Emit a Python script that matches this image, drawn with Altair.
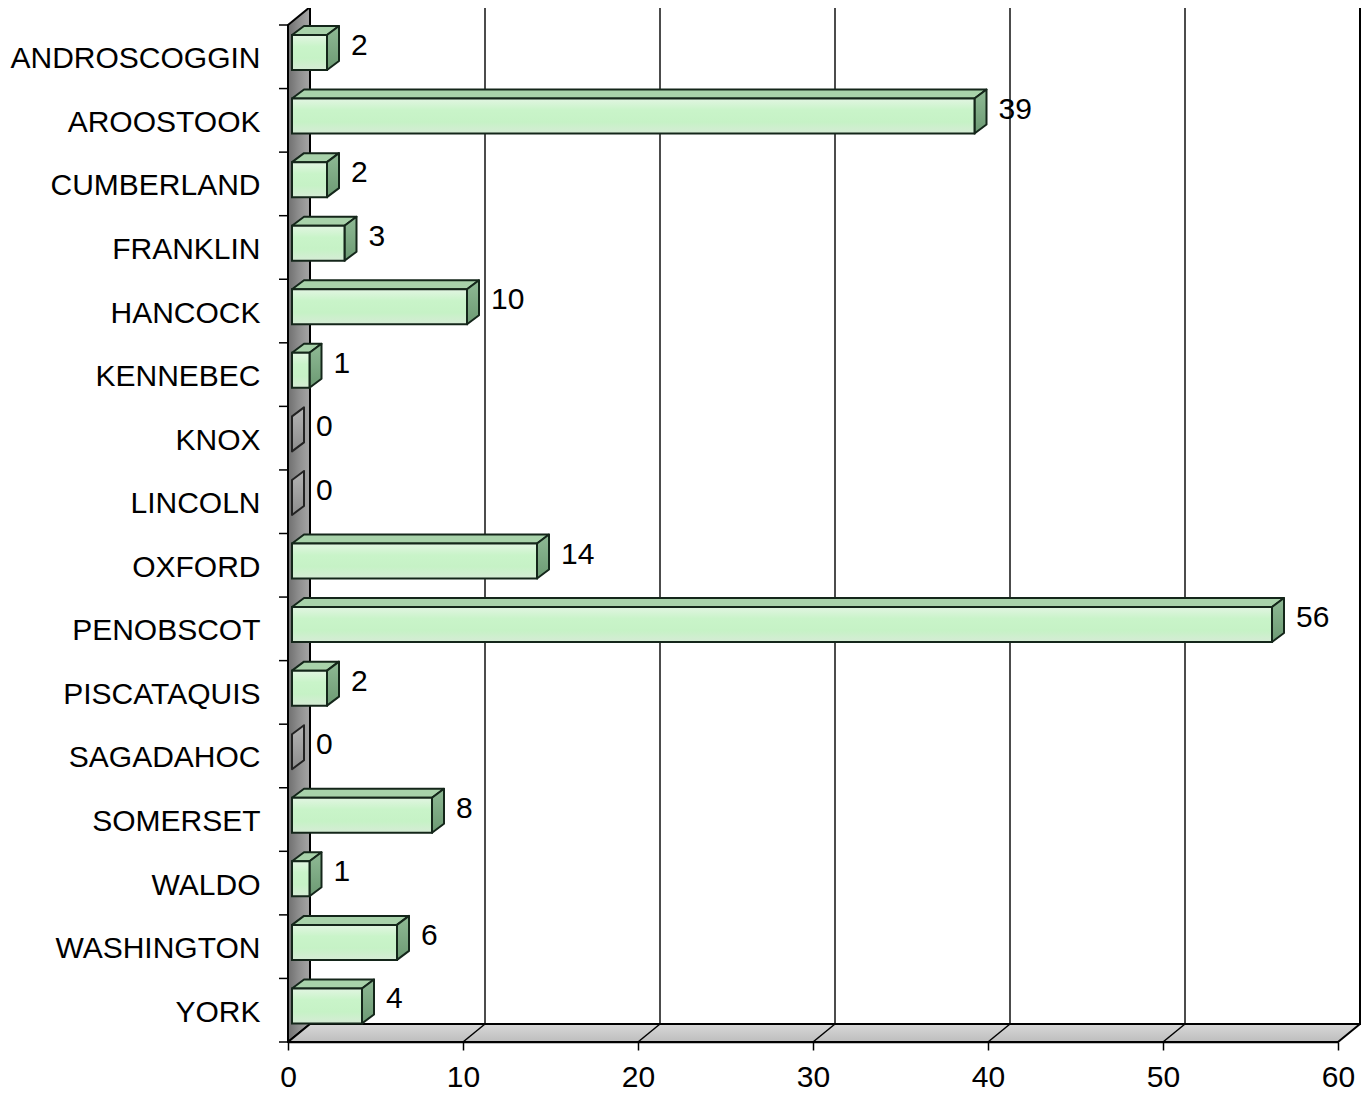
import json
import altair as alt
import pandas as pd

# ---- data ----
counties = ["ANDROSCOGGIN", "AROOSTOOK", "CUMBERLAND", "FRANKLIN", "HANCOCK",
            "KENNEBEC", "KNOX", "LINCOLN", "OXFORD", "PENOBSCOT", "PISCATAQUIS",
            "SAGADAHOC", "SOMERSET", "WALDO", "WASHINGTON", "YORK"]
values = [2, 39, 2, 3, 10, 1, 0, 0, 14, 56, 2, 0, 8, 1, 6, 4]
x_ticks = [0, 10, 20, 30, 40, 50, 60]

# ---- geometry (pixels -> data units) ----
W, H = 1050, 1017
XMAX, N = 60, len(counties)
PXU = W / XMAX
PYU = H / N
DEPTH_X, DEPTH_Y = 22 / PXU, 18 / PYU      # chart box depth
BAR_X0 = 4 / PXU                            # bar front starts a bit inside
BDX, BDY = 12 / PXU, 9 / PYU                # bar depth
FTOP, FBOT = 10 / PYU, 45 / PYU             # front face inside band
LBL_Y = 21 / PYU

FONT = "Liberation Sans"
FS = 30
OUT = "#14261a"


def grad(colors, horizontal=False):
    n = len(colors) - 1
    return alt.LinearGradient(
        gradient="linear",
        stops=[alt.GradientStop(offset=i / n, color=c) for i, c in enumerate(colors)],
        x1=0, y1=0, x2=1 if horizontal else 0, y2=0 if horizontal else 1)


xs = alt.Scale(domain=[0, XMAX], nice=False, zero=False)
ys = alt.Scale(domain=[0, N], nice=False, zero=False, reverse=True)
label_expr = "%s[floor(datum.value)]" % json.dumps(counties)
X = alt.X("x:Q", scale=xs, title=None,
          axis=alt.Axis(values=x_ticks, grid=False, domainColor="black", domainWidth=1.5,
                        tickColor="black", tickSize=8, tickWidth=1.5, labelFont=FONT,
                        labelFontSize=FS, labelColor="black", labelPadding=12,
                        labelFlush=False, labelOverlap=False, format="d"))
Y = alt.Y("y:Q", scale=ys, title=None, stack=None,
          axis=alt.Axis(values=[i + 0.5 for i in range(N)], labelExpr=label_expr,
                        ticks=False, domain=False, grid=False, labelFont=FONT,
                        labelFontSize=FS, labelColor="black", labelPadding=28,
                        labelOffset=2, labelLimit=0, labelOverlap=False,
                        labelBaseline="middle"))


def area(df, fill, stroke, sw=1.5):
    return alt.Chart(df).mark_area(orient="vertical", interpolate="linear", fill=fill,
                                   stroke=stroke, strokeWidth=sw, strokeJoin="round").encode(
        x=X, y=Y, y2="y2:Q", detail="s:N")


# ---- frame ----
back = pd.DataFrame([{"x": DEPTH_X, "x2": XMAX + DEPTH_X, "y": -DEPTH_Y, "y2": N - DEPTH_Y}])
back_layer = alt.Chart(back).mark_rect(fill="white", stroke="black", strokeWidth=2).encode(
    x=X, x2="x2:Q", y=Y, y2="y2:Q")

grid = pd.DataFrame([{"x": t + DEPTH_X, "y": -DEPTH_Y, "y2": N - DEPTH_Y} for t in x_ticks[1:-1]])
grid_layer = alt.Chart(grid).mark_rule(color="#111111", strokeWidth=1.5).encode(
    x=X, y=Y, y2="y2:Q")

wall = pd.DataFrame([
    {"s": "wall", "x": 0, "y": 0, "y2": N},
    {"s": "wall", "x": DEPTH_X, "y": -DEPTH_Y, "y2": N - DEPTH_Y},
])
wall_layer = area(wall, grad(["#6f6f6f", "#8e8e8e", "#a6a6a6"], horizontal=True), "black", 2)

floor = pd.DataFrame([
    {"s": "floor", "x": 0, "y": N, "y2": N},
    {"s": "floor", "x": DEPTH_X, "y": N - DEPTH_Y, "y2": N},
    {"s": "floor", "x": XMAX, "y": N - DEPTH_Y, "y2": N},
    {"s": "floor", "x": XMAX + DEPTH_X, "y": N - DEPTH_Y, "y2": N - DEPTH_Y},
])
floor_layer = area(floor, grad(["#d8d8d8", "#bdbdbd"]), "black", 2)

diag = pd.DataFrame([{"x": t, "x2": t + DEPTH_X, "y": N, "y2": N - DEPTH_Y} for t in x_ticks[1:-1]])
diag_layer = alt.Chart(diag).mark_rule(color="black", strokeWidth=1.5).encode(
    x=X, x2="x2:Q", y=Y, y2="y2:Q")

ticks = pd.DataFrame([{"x": 0, "x2": 0, "y": i} for i in range(N + 1)])
tick_layer = alt.Chart(ticks).mark_rule(color="black", strokeWidth=1.5, xOffset=-9).encode(
    x=X, x2="x2:Q", y=Y)

# ---- bars ----
top_rows, side_rows, zero_rows, front_rows, lbl_rows = [], [], [], [], []
for i, (c, v) in enumerate(zip(counties, values)):
    x0 = BAR_X0
    xv = BAR_X0 + v
    ft, fb = i + FTOP, i + FBOT
    lbl_rows.append({"x": xv, "y": i + LBL_Y, "t": str(v)})
    if v == 0:
        zero_rows += [
            {"s": c, "x": xv, "y": ft, "y2": fb},
            {"s": c, "x": xv + BDX, "y": ft - BDY, "y2": fb - BDY},
        ]
        continue
    front_rows.append({"x": x0, "x2": xv, "y": ft, "y2": fb})
    top_rows += [
        {"s": c, "x": x0, "y": ft, "y2": ft},
        {"s": c, "x": x0 + BDX, "y": ft - BDY, "y2": ft},
        {"s": c, "x": xv, "y": ft - BDY, "y2": ft},
        {"s": c, "x": xv + BDX, "y": ft - BDY, "y2": ft - BDY},
    ]
    side_rows += [
        {"s": c, "x": xv, "y": ft, "y2": fb},
        {"s": c, "x": xv + BDX, "y": ft - BDY, "y2": fb - BDY},
    ]

top_layer = area(pd.DataFrame(top_rows), "#a8d2aa", OUT, 2)
side_layer = area(pd.DataFrame(side_rows), grad(["#8fba95", "#6c9a73"]), OUT, 2)
zero_layer = area(pd.DataFrame(zero_rows), grad(["#b5b5b5", "#8c8c8c"]), "#222222", 2)
front_layer = alt.Chart(pd.DataFrame(front_rows)).mark_rect(
    fill=grad(["#e2f5e2", "#c9f4c9", "#c6f2c6", "#d6ecd6"]), stroke=OUT, strokeWidth=2).encode(
    x=X, x2="x2:Q", y=Y, y2="y2:Q")

lbl_layer = alt.Chart(pd.DataFrame(lbl_rows)).mark_text(
    align="left", baseline="middle", dx=24, font=FONT, fontSize=FS, color="black").encode(
    x=X, y=Y, text="t:N")

chart = alt.layer(
    back_layer, grid_layer, wall_layer, floor_layer, diag_layer, tick_layer,
    top_layer, side_layer, front_layer, zero_layer, lbl_layer
).properties(
    width=W, height=H,
    padding={"left": 280, "top": 17, "right": 24, "bottom": 50},
    autosize=alt.AutoSizeParams(type="none"),
).configure_view(stroke=None)

chart.save("out.html", embed_options={"renderer": "svg", "actions": False})
